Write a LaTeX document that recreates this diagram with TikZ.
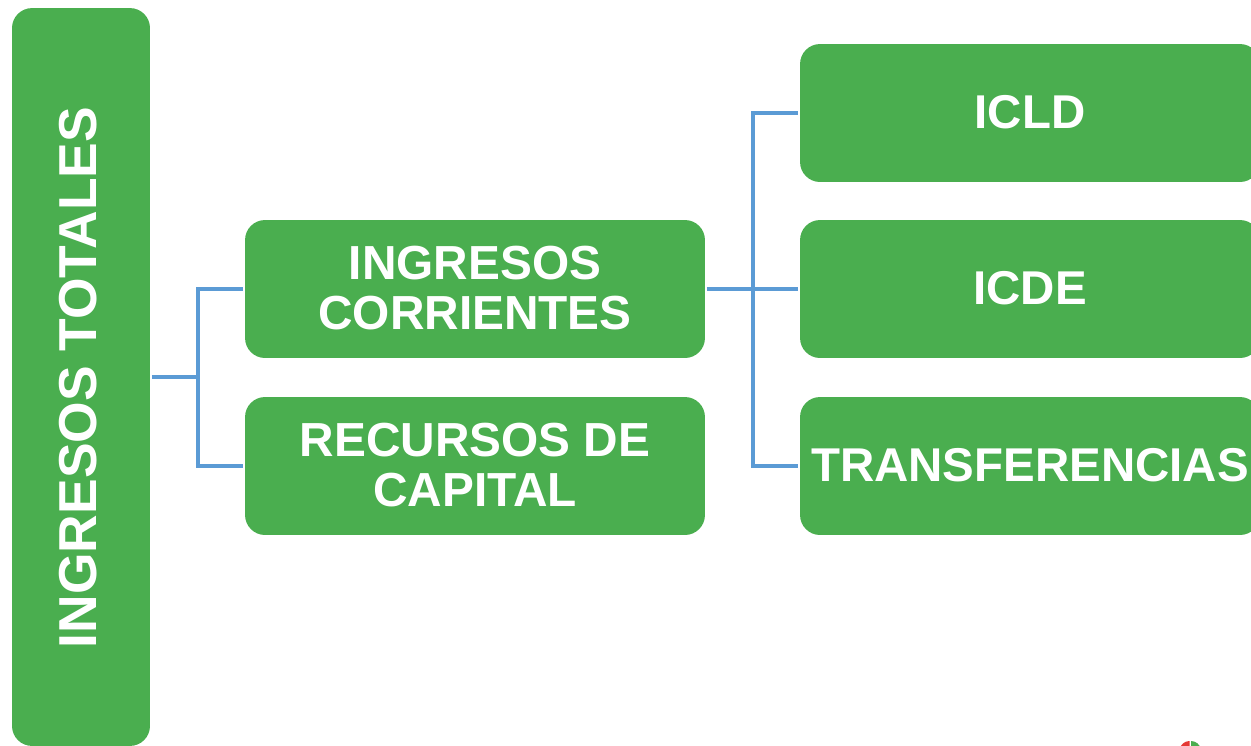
\documentclass[tikz,border=0pt]{standalone}
\usepackage{fontspec}
\setmainfont{Liberation Sans}
\definecolor{boxgreen}{HTML}{4AAE4F}
\definecolor{linkblue}{HTML}{5B9BD5}
\definecolor{markred}{HTML}{E53935}
\tikzset{>=stealth,
    greenbox/.style={rectangle, rounded corners=0.4cm, fill=boxgreen, text=white, align=center, inner sep=0pt, outer sep=0.04cm, text depth=1.4pt, font=\bfseries\fontsize{27.2}{28.3}\selectfont, minimum width=9.2cm, minimum height=2.76cm},
    link/.style={draw=linkblue, line width=0.08cm}}

\begin{document}
\begin{tikzpicture}[x=0.02cm, y=-0.02cm]
    \useasboundingbox (0,0) rectangle (1251,745);
    \clip (0,0) rectangle (1251,745);
    \node[greenbox, minimum width=2.76cm, minimum height=14.76cm] (total) at (81,377) {};
    \node[rotate=90, text=white, font=\bfseries\fontsize{30.4}{32}\selectfont] (totaltext) at (78,377.5) {INGRESOS TOTALES};
    \node[greenbox] (corrientes) at (475,289) {INGRESOS\\CORRIENTES};
    \node[greenbox] (capital) at (475,466) {RECURSOS DE\\CAPITAL};
    \node[greenbox, font=\bfseries\fontsize{27}{28.3}\selectfont] (icld) at (1030,113) {ICLD};
    \node[greenbox, font=\bfseries\fontsize{27}{28.3}\selectfont] (icde) at (1030,289) {ICDE};
    \node[greenbox, font=\bfseries\fontsize{27}{28.3}\selectfont] (transf) at (1030,466) {TRANSFERENCIAS};
    \coordinate (busL) at (197.5,377);
    \coordinate (busR) at (753,289);
    \draw[link] (total.east) -- (busL);
    \draw[link] (busL) |- (corrientes.west);
    \draw[link] (busL) |- (capital.west);
    \draw[link] (corrientes.east) -- (icde.west);
    \draw[link] (busR) |- (icld.west);
    \draw[link] (busR) |- (transf.west);
    % logo cut off at the page edge
    \fill[markred] (1189.5,751) -- (1189.5,741) arc (270:190:10) -- cycle;
    \fill[boxgreen] (1191,751) -- (1191,741) arc (270:350:10) -- cycle;
\end{tikzpicture}
\end{document}
